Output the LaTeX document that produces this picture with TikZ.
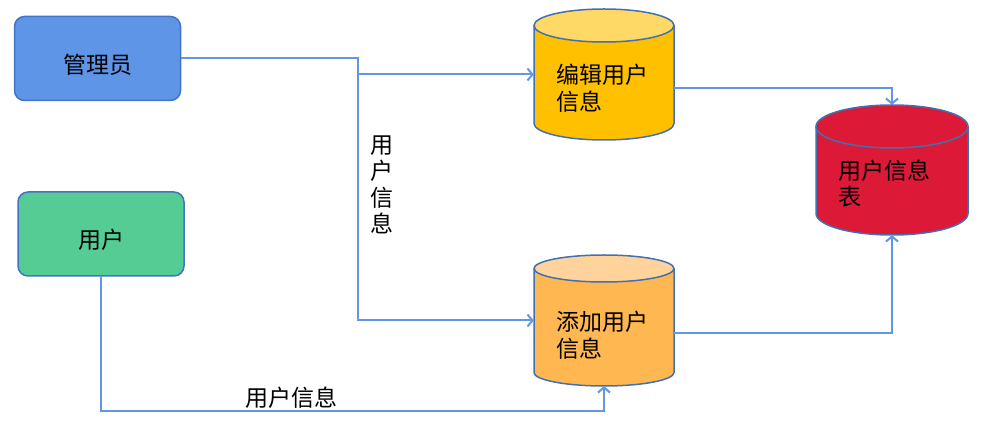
\documentclass[tikz,border=0pt]{standalone}
\usepackage{fontspec}
\setmainfont{Noto Sans CJK SC}
\usetikzlibrary{
    arrows.meta,
    positioning,
    shapes.geometric
}

\definecolor{adminblue}{RGB}{94,149,230}
\definecolor{usergreen}{RGB}{84,204,148}
\definecolor{boxline}{RGB}{68,114,196}
\definecolor{flowblue}{RGB}{100,150,232}
\definecolor{editbody}{RGB}{255,192,0}
\definecolor{edittop}{RGB}{255,217,102}
\definecolor{addbody}{RGB}{255,183,82}
\definecolor{addtop}{RGB}{255,211,155}
\definecolor{tablered}{RGB}{220,26,56}
\definecolor{dbline}{RGB}{65,113,176}

% name, centre x, centre y, width, height, end radius, body colour, end colour
\newcommand{\datastore}[8]{%
    \pgfmathsetmacro\storehw{#4/2}%
    \node[
        minimum width=#4pt,
        minimum height=#5pt,
        inner sep=0pt
    ] (#1) at (#2,#3) {};
    \fill[#7]
        (#2-#4/2,#3-#5/2+#6)
        -- (#2-#4/2,#3+#5/2-#6)
        arc[start angle=180, end angle=360,
            x radius=\storehw pt, y radius=#6pt]
        -- (#2+#4/2,#3-#5/2+#6)
        -- cycle;
    \draw[store, fill=#8]
        (#2,#3-#5/2+#6)
        ellipse[x radius=\storehw pt, y radius=#6pt];
    \draw[store]
        (#2-#4/2,#3-#5/2+#6)
        -- (#2-#4/2,#3+#5/2-#6)
        arc[start angle=180, end angle=360,
            x radius=\storehw pt, y radius=#6pt]
        -- (#2+#4/2,#3-#5/2+#6);
}

\begin{document}
\begin{tikzpicture}[
    x=1pt,
    y=-1pt,
    every node/.style={
        font=\fontsize{23pt}{26.5pt}\selectfont
    },
    actor/.style={
        draw=boxline,
        line width=1.5pt,
        rounded corners=10pt,
        minimum width=166pt,
        minimum height=84pt,
        text height=32pt,
        text depth=2pt
    },
    store/.style={
        draw=dbline,
        line width=1.5pt
    },
    storetext/.style={
        align=left,
        inner sep=0pt
    },
    flow/.style={
        draw=flowblue,
        line width=2pt,
        -{Straight Barb[length=5pt,width=12pt]}
    }
]

    \useasboundingbox (0,0) rectangle (994,427);

    % Actors
    \node[
        actor,
        fill=adminblue
    ] (admin) at (97.5,58.5)
        {管理员};

    \node[
        actor,
        fill=usergreen
    ] (user) at (101,234)
        {用户};

    % Data stores
    \datastore{edit}{604}{74.5}{140}{131}{16.5}{editbody}{edittop}
    \datastore{add}{604}{320.5}{140}{131}{13.5}{addbody}{addtop}
    \datastore{table}{892}{170}{152}{130}{21.5}{tablered}{tablered}

    \node[storetext] (editT) at (602.5,88)
        {编辑用户\\信息};
    \node[storetext] (addT) at (602.5,335)
        {添加用户\\信息};
    \node[storetext] (tableT) at (884.5,183.5)
        {用户信息\\表};

    % Flows from the administrator
    \coordinate (split) at (358,58.5);

    \draw[flow]
        (admin.east) -- (split) |- (edit.west);

    \draw[flow]
        (split) |- (add.west);

    \node[align=center] (infoV) at (382,185)
        {用\\户\\信\\息};

    % Flows into the user table
    \draw[flow]
        ([yshift=-13.5pt]edit.east) -| (table.north);

    \draw[flow]
        ([yshift=-12.5pt]add.east) -| (table.south);

    % Flow from the user
    \draw[flow]
        (user.south) |- ([yshift=-25pt]add.south) -- (add.south);

    \node (infoH) at (291,398)
        {用户信息};

\end{tikzpicture}
\end{document}
